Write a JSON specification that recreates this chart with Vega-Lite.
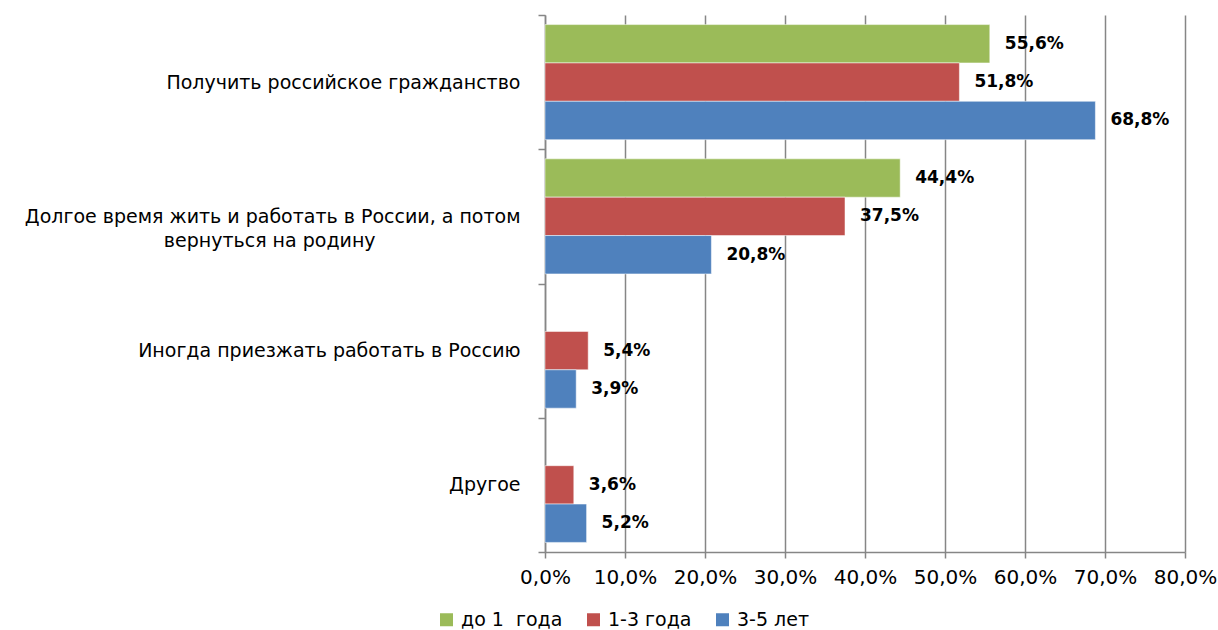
{
  "$schema": "https://vega.github.io/schema/vega-lite/v6.json",
  "autosize": {"type": "none"},
  "width": 640,
  "height": 537,
  "padding": {"left": 545, "top": 15, "right": 33, "bottom": 78},
  "background": "white",
  "config": {
    "view": {"stroke": null},
    "font": "DejaVu Sans",
    "locale": {"number": {"decimal": ",", "thousands": " ", "grouping": [3], "currency": ["", " ₽"]}}
  },
  "data": {
    "values": [
      {"cat": "Получить российское гражданство", "series": "до 1\u00a0 года", "value": 0.556},
      {"cat": "Получить российское гражданство", "series": "1-3 года", "value": 0.518},
      {"cat": "Получить российское гражданство", "series": "3-5 лет", "value": 0.688},
      {"cat": "Долгое время жить и работать в России, а потом вернуться на родину", "series": "до 1\u00a0 года", "value": 0.444},
      {"cat": "Долгое время жить и работать в России, а потом вернуться на родину", "series": "1-3 года", "value": 0.375},
      {"cat": "Долгое время жить и работать в России, а потом вернуться на родину", "series": "3-5 лет", "value": 0.208},
      {"cat": "Иногда приезжать работать в Россию", "series": "1-3 года", "value": 0.054},
      {"cat": "Иногда приезжать работать в Россию", "series": "3-5 лет", "value": 0.039},
      {"cat": "Другое", "series": "1-3 года", "value": 0.036},
      {"cat": "Другое", "series": "3-5 лет", "value": 0.052}
    ]
  },
  "encoding": {
    "y": {
      "field": "cat",
      "type": "nominal",
      "sort": ["Получить российское гражданство", "Долгое время жить и работать в России, а потом вернуться на родину", "Иногда приезжать работать в Россию", "Другое"],
      "scale": {"paddingInner": 0, "paddingOuter": 0},
      "axis": {
        "title": null,
        "tickBand": "extent",
        "tickSize": 7,
        "tickColor": "#868686",
        "tickWidth": 1.5,
        "domainColor": "#868686",
        "domainWidth": 1.5,
        "labelPadding": 18,
        "labelFontSize": 19,
        "labelColor": "#000000",
        "labelLimit": 600,
        "labelLineHeight": 24,
        "labelExpr": "datum.value == 'Долгое время жить и работать в России, а потом вернуться на родину' ? ['Долгое время жить и работать в России, а потом', 'вернуться на родину\u00a0\u00a0\u00a0\u00a0\u00a0\u00a0\u00a0\u00a0\u00a0\u00a0\u00a0\u00a0\u00a0\u00a0\u00a0\u00a0\u00a0\u00a0\u00a0\u00a0\u00a0\u00a0\u00a0\u00a0\u200b'] : datum.value"
      }
    },
    "yOffset": {
      "field": "series",
      "type": "nominal",
      "scale": {"domain": ["до 1\u00a0 года", "1-3 года", "3-5 лет"], "paddingInner": 0, "paddingOuter": 0.25}
    },
    "x": {
      "field": "value",
      "type": "quantitative",
      "scale": {"domain": [0, 0.8], "nice": false},
      "axis": {
        "title": null,
        "values": [0, 0.1, 0.2, 0.3, 0.4, 0.5, 0.6, 0.7, 0.8],
        "format": ".1%",
        "labelFlush": false,
        "grid": true,
        "gridColor": "#868686",
        "gridWidth": 1.5,
        "tickColor": "#868686",
        "tickWidth": 1.5,
        "tickSize": 6,
        "domainColor": "#868686",
        "domainWidth": 1.5,
        "labelFontSize": 20,
        "labelColor": "#000000",
        "labelPadding": 9
      }
    }
  },
  "layer": [
    {
      "mark": {"type": "bar", "stroke": "white", "strokeOpacity": 0.5, "strokeWidth": 1},
      "encoding": {
        "color": {
          "field": "series",
          "type": "nominal",
          "scale": {"domain": ["до 1\u00a0 года", "1-3 года", "3-5 лет"], "range": ["#9BBB59", "#C0504D", "#4F81BD"]},
          "legend": {
            "title": null,
            "orient": "none",
            "direction": "horizontal",
            "legendX": -108,
            "legendY": 595,
            "symbolType": "square",
            "symbolSize": 169,
            "symbolStrokeWidth": 0,
            "labelFontSize": 19,
            "labelColor": "#000000",
            "columnPadding": 21,
            "labelOffset": 5
          }
        }
      }
    },
    {
      "mark": {"type": "text", "align": "left", "dx": 15, "fontWeight": "bold", "fontSize": 17, "color": "#000000"},
      "encoding": {
        "text": {"field": "value", "type": "quantitative", "format": ".1%"}
      }
    }
  ]
}
